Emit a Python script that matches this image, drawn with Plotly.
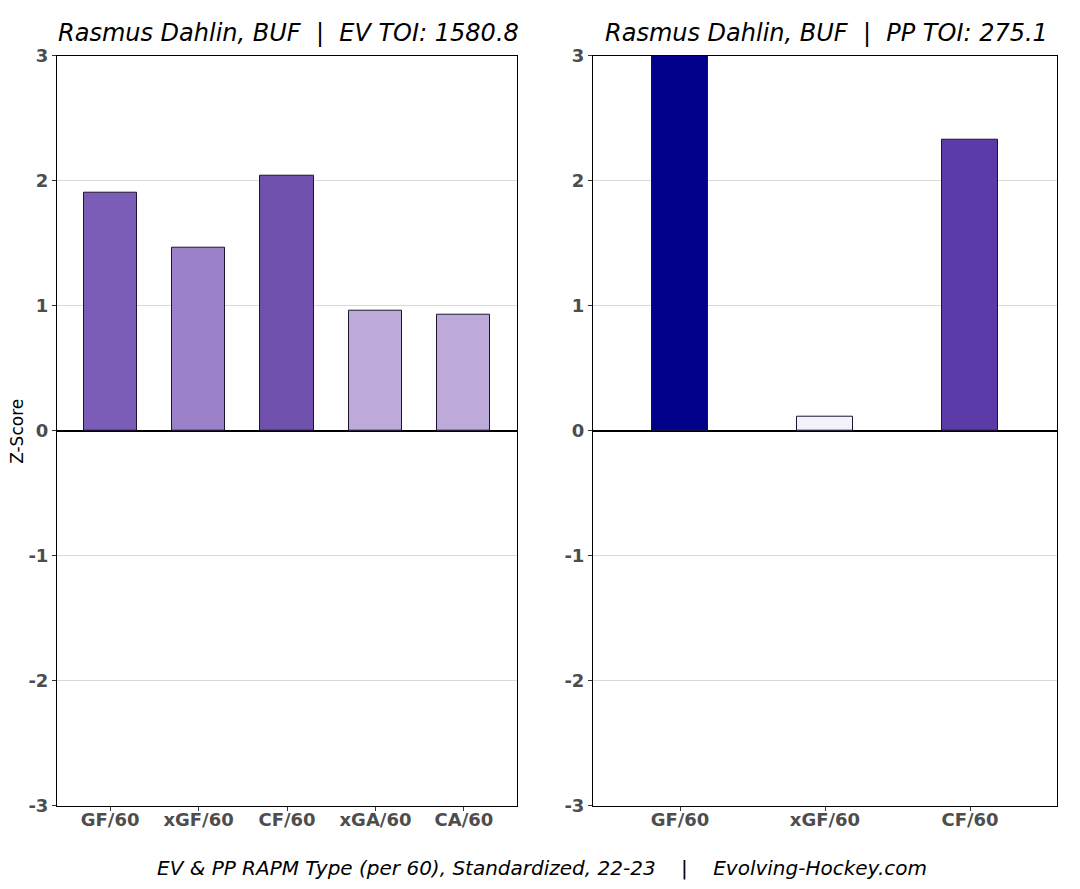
import plotly.graph_objects as go

W, H = 1080, 889

ev_labels = ["GF/60", "xGF/60", "CF/60", "xGA/60", "CA/60"]
ev_values = [1.90, 1.46, 2.04, 0.96, 0.93]
ev_colors = ["#7b5db8", "#9b82c8", "#6f51ad", "#bdaad9", "#bdaad9"]

pp_labels = ["GF/60", "xGF/60", "CF/60"]
pp_values = [3.0, 0.11, 2.33]
pp_colors = ["#00008b", "#f3f1fa", "#5a3ba8"]

y_ticks = [-3, -2, -1, 0, 1, 2, 3]

title_ev = "Rasmus Dahlin, BUF  |  EV TOI: 1580.8"
title_pp = "Rasmus Dahlin, BUF  |  PP TOI: 275.1"
caption = "EV & PP RAPM Type (per 60), Standardized, 22-23    |    Evolving-Hockey.com"

FONT = "DejaVu Sans"
TICK_COLOR = "#4d4d4d"

# compensation for page offset / scaling observed in the rendered screenshot
X_OFF = 8.0
Y_OFF, Y_SC = 16.2, 0.9786


def px_x(t):
    return (t - X_OFF) / W


def px_y(t):
    p = (t - Y_OFF) / Y_SC
    return 1 - p / H


fig = go.Figure()
fig.add_trace(go.Bar(
    x=ev_labels, y=ev_values, width=0.6,
    marker=dict(color=ev_colors, line=dict(color="#1c1530", width=1)),
    xaxis="x", yaxis="y", showlegend=False,
))
fig.add_trace(go.Bar(
    x=pp_labels, y=pp_values, width=0.38,
    marker=dict(color=pp_colors, line=dict(color="#1c1530", width=1)),
    xaxis="x2", yaxis="y2", showlegend=False,
))

ydom = [px_y(804.5), px_y(53)]
tickfont = dict(family=FONT, size=18, color=TICK_COLOR, weight="bold")

common_x = dict(
    showgrid=False, showline=True, mirror=True, linecolor="black", linewidth=1,
    ticks="outside", ticklen=4, tickcolor="#333333", tickfont=tickfont,
    ticklabelstandoff=-6,
    fixedrange=True,
)
common_y = dict(
    range=[-3, 3], tickvals=y_ticks, ticktext=[str(v) for v in y_ticks],
    showgrid=True, gridcolor="#d9d9d9", gridwidth=1,
    zeroline=True, zerolinecolor="black", zerolinewidth=1.5,
    showline=True, mirror=True, linecolor="black", linewidth=1,
    ticks="outside", ticklen=4, tickcolor="#333333", tickfont=tickfont,
    domain=ydom, fixedrange=True,
)

fig.update_layout(
    width=W, height=H,
    margin=dict(l=0, r=0, t=0, b=0),
    paper_bgcolor="white", plot_bgcolor="white",
    bargap=0,
    xaxis=dict(domain=[px_x(57), px_x(517)], range=[-0.6, 4.6], anchor="y", **common_x),
    yaxis=dict(anchor="x", **common_y),
    xaxis2=dict(domain=[px_x(593), px_x(1057)], range=[-0.6, 2.6], anchor="y2", **common_x),
    yaxis2=dict(anchor="x2", **common_y),
    annotations=[
        dict(text=title_ev, x=px_x(288), y=px_y(30), xref="paper", yref="paper",
             showarrow=False, xanchor="center", yanchor="middle",
             font=dict(family=FONT, size=24, color="black", style="italic")),
        dict(text=title_pp, x=px_x(826), y=px_y(30), xref="paper", yref="paper",
             showarrow=False, xanchor="center", yanchor="middle",
             font=dict(family=FONT, size=24, color="black", style="italic")),
        dict(text=caption, x=px_x(542), y=px_y(867), xref="paper", yref="paper",
             showarrow=False, xanchor="center", yanchor="middle",
             font=dict(family=FONT, size=20, color="black", style="italic")),
        dict(text="Z-Score", x=px_x(17), y=px_y(430), xref="paper", yref="paper",
             showarrow=False, xanchor="center", yanchor="middle", textangle=-90,
             font=dict(family=FONT, size=17, color="black")),
    ],
)

fig.write_html("out.html")
